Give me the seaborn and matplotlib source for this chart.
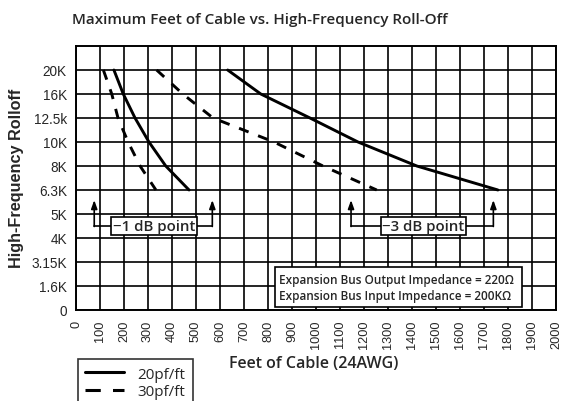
import numpy as np
import pandas as pd
import matplotlib
matplotlib.use('Agg')
import matplotlib.pyplot as plt
import seaborn as sns
from matplotlib.lines import Line2D
from matplotlib.patches import Rectangle

# y axis is a category scale of frequencies
freq_labels = ['0', '1.6K', '3.15K', '4K', '5K', '6.3K', '8K', '10K', '12.5k', '16K', '20K']
curve_freqs = ['20K', '16K', '12.5k', '10K', '8K', '6.3K']

# max feet of cable at each frequency
feet_20pf_1db = [158, 197, 246, 304, 374, 471]
feet_30pf_1db = [114, 149, 175, 217, 267, 333]
feet_20pf_3db = [632, 770, 975, 1175, 1420, 1758]
feet_30pf_3db = [336, 445, 571, 825, 1029, 1253]

x_ticks = list(range(0, 2001, 100))

rows = []
for name, cable, vals in [('20pf -1dB', '20pf/ft', feet_20pf_1db),
                          ('30pf -1dB', '30pf/ft', feet_30pf_1db),
                          ('20pf -3dB', '20pf/ft', feet_20pf_3db),
                          ('30pf -3dB', '30pf/ft', feet_30pf_3db)]:
    for f, v in zip(curve_freqs, vals):
        rows.append({'curve': name, 'cable': cable, 'feet': v, 'pos': freq_labels.index(f)})
df = pd.DataFrame(rows)

sns.set_style('white')
sans = 'Open Sans'
arial = 'Liberation Sans'

fig = plt.figure(figsize=(5.61, 4.02), dpi=100)
ax = fig.add_axes([76/561, 1-311/402, 480/561, 264/402])

sns.lineplot(data=df, x='feet', y='pos', style='cable', units='curve', estimator=None,
             sort=False, color='black', lw=2.1, legend=False, ax=ax,
             dashes={'20pf/ft': '', '30pf/ft': (3.5, 3.5)}, zorder=5)

ax.set_xlim(0, 2000)
ax.set_ylim(0, 11)
ax.set_xticks(x_ticks)
ax.set_xticklabels([str(t) for t in x_ticks], rotation=90, fontsize=9.2, family=arial)
ax.set_yticks(range(len(freq_labels)))
ax.set_yticklabels(freq_labels, fontsize=9.8, family=arial)
ax.set_yticks(range(12), minor=True)
ax.tick_params(length=0, pad=7)
ax.tick_params(axis='y', pad=6.5)
ax.grid(True, color='black', lw=1.2)
ax.set_axisbelow(True)
for s in ax.spines.values():
    s.set_color('black')
    s.set_linewidth(1.4)
ax.set_xlabel('')
ax.set_ylabel('')

# -1 dB / -3 dB brackets
for x1, x2, xc, lab in [(76, 568, 325, '\u22121 dB point'), (1146, 1739, 1448, '\u22123 dB point')]:
    ax.plot([x1, x2], [3.5, 3.5], color='black', lw=1.2, zorder=6)
    for xa in (x1, x2):
        ax.annotate('', xy=(xa, 4.58), xytext=(xa, 3.48),
                    arrowprops=dict(arrowstyle='-|>,head_length=0.5,head_width=0.18',
                                    color='black', lw=1.2, shrinkA=0, shrinkB=0), zorder=6)
    ax.text(xc, 3.5, lab, ha='center', va='center', fontsize=10.8, family=sans, weight='semibold',
            zorder=7, bbox=dict(boxstyle='square,pad=0.12', fc='white', ec='black', lw=1.2))

ax.add_patch(Rectangle((829, 0.125), 1031, 1.655, fc='white', ec='black', lw=1.2, zorder=6))
ax.text(845, 1.25, 'Expansion Bus Output Impedance = 220\u03a9', fontsize=8.5, family=sans,
        weight='semibold', va='center', zorder=7)
ax.text(845, 0.6, 'Expansion Bus Input Impedance = 200K\u03a9', fontsize=8.5, family=sans,
        weight='semibold', va='center', zorder=7)

fig.text(72/561, 1-20/402, 'Maximum Feet of Cable vs. High-Frequency Roll-Off', fontsize=11,
         family=sans, weight='semibold', ha='left', va='center')
fig.text(314/561, 1-364/402, 'Feet of Cable (24AWG)', fontsize=11.5, family=sans,
         weight='semibold', ha='center', va='center')
fig.text(17/561, 1-178/402, 'High-Frequency Rolloff', fontsize=11.7, family=arial,
         weight='bold', ha='center', va='center', rotation=90)

handles = [Line2D([], [], color='black', lw=2.2),
           Line2D([], [], color='black', lw=2.2, dashes=(5, 4))]
leg = fig.legend(handles, ['20pf/ft', '30pf/ft'], loc='upper left',
                 bbox_to_anchor=(77.7/561, 1-360/402), borderaxespad=0, frameon=True,
                 fancybox=False, edgecolor='black', prop={'family': sans, 'size': 11},
                 handlelength=2.5, labelspacing=0.15, borderpad=0.5, handletextpad=0.9)
leg.get_frame().set_linewidth(1.2)

fig.savefig('out.png', dpi=100)
